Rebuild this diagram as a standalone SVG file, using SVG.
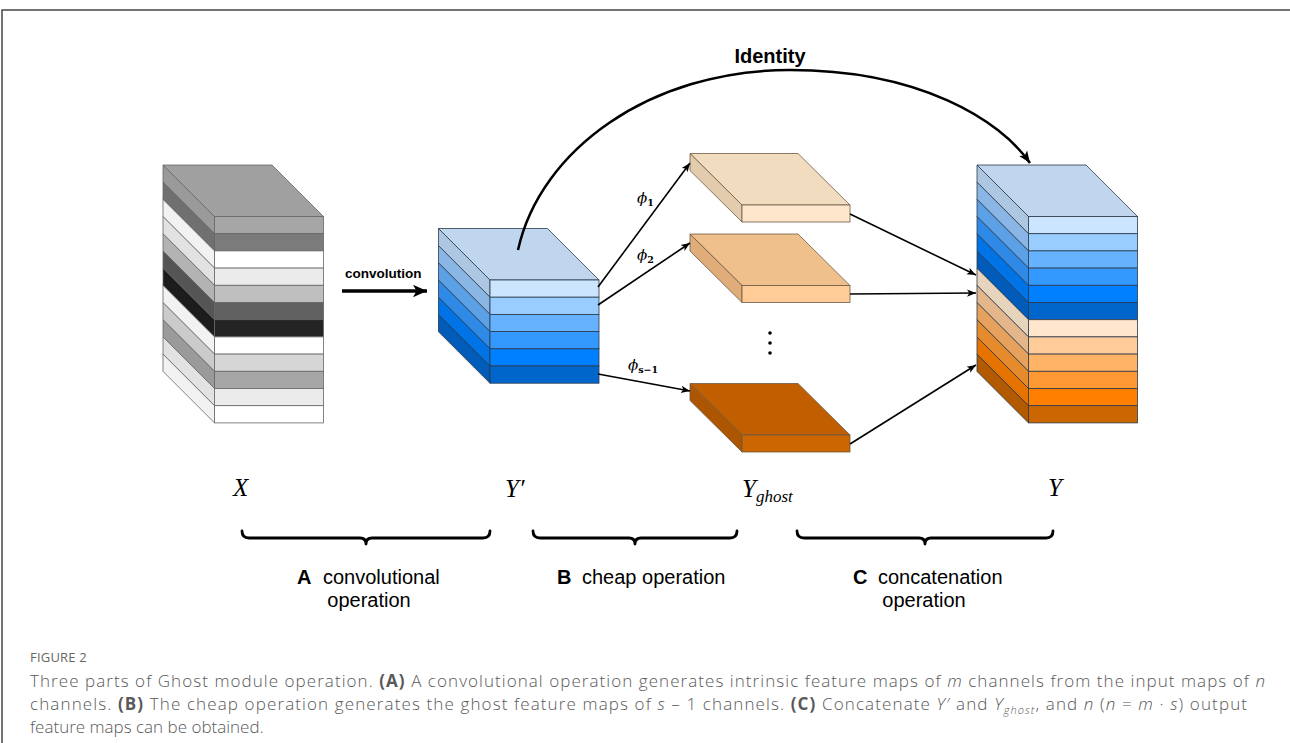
<svg xmlns="http://www.w3.org/2000/svg" xmlns:xlink="http://www.w3.org/1999/xlink" width="1290" height="743" viewBox="0 0 1290 743">
<style>
.frame{fill:none;stroke:#444;stroke-width:1.5}
.gs{stroke:#666;stroke-width:0.8}
.bs{stroke:#2b3a4a;stroke-width:0.8}
.ss{stroke:#6b5a45;stroke-width:0.8}
.ln{fill:none;stroke:#000;stroke-width:1.6}
.brace{fill:none;stroke:#000;stroke-width:2.8;stroke-linecap:round;stroke-linejoin:round}
.lbl{font-family:"Liberation Sans",Arial,sans-serif;font-size:20px;fill:#000}
.b{font-weight:bold}
.m{font-family:"Liberation Serif","Times New Roman",serif;font-style:italic;font-size:25px;fill:#000}
.phi{font-family:"DejaVu Serif",serif;font-style:italic;font-size:15px;fill:#000}
.sub{font-size:9.5px;font-weight:bold;font-style:normal}
.cap{font-family:"Open Sans",sans-serif;font-size:17px;font-weight:300;fill:#595959}
.fig{font-family:"Open Sans",sans-serif;font-size:13px;fill:#666;letter-spacing:0.2px}
</style>
<defs>
<polygon id="tp" points="0,0 109,0 160.5,51.5 51.5,51.5"/>
<polygon id="sd" points="0,0 51.5,51.5 51.5,68.7 0,17.2"/>
<rect id="fr" x="51.5" y="51.5" width="109" height="17.2"/>
<marker id="ah" viewBox="0 0 10 10" refX="10" refY="5" markerWidth="9" markerHeight="9" markerUnits="userSpaceOnUse" orient="auto"><path d="M0,1 L10,5 L0,9 L2.5,5 z" fill="#000"/></marker>
<marker id="ahm" viewBox="0 0 10 10" refX="10" refY="5" markerWidth="13" markerHeight="12" markerUnits="userSpaceOnUse" orient="auto"><path d="M0,1 L10,5 L0,9 L2.5,5 z" fill="#000"/></marker>
<marker id="ahl" viewBox="0 0 10 10" refX="10" refY="5" markerWidth="16" markerHeight="14" markerUnits="userSpaceOnUse" orient="auto"><path d="M0,0.5 L10,5 L0,9.5 L2.5,5 z" fill="#000"/></marker>
</defs>
<rect width="1290" height="743" fill="#fff"/>
<path class="frame" d="M2,743 L2,10 L1290,10"/>

<g id="X" class="gs" transform="translate(163,165)">
<use xlink:href="#tp" fill="#a0a0a0"/>
<use xlink:href="#sd" y="0" fill="#9a9a9a"/><use xlink:href="#fr" y="0" fill="#a6a6a6"/>
<use xlink:href="#sd" y="17.2" fill="#707070"/><use xlink:href="#fr" y="17.2" fill="#7b7b7b"/>
<use xlink:href="#sd" y="34.4" fill="#f2f2f2"/><use xlink:href="#fr" y="34.4" fill="#ffffff"/>
<use xlink:href="#sd" y="51.6" fill="#e2e2e2"/><use xlink:href="#fr" y="51.6" fill="#ebebeb"/>
<use xlink:href="#sd" y="68.8" fill="#b3b3b3"/><use xlink:href="#fr" y="68.8" fill="#bfbfbf"/>
<use xlink:href="#sd" y="86" fill="#555555"/><use xlink:href="#fr" y="86" fill="#606060"/>
<use xlink:href="#sd" y="103.2" fill="#1c1c1c"/><use xlink:href="#fr" y="103.2" fill="#242424"/>
<use xlink:href="#sd" y="120.4" fill="#f2f2f2"/><use xlink:href="#fr" y="120.4" fill="#ffffff"/>
<use xlink:href="#sd" y="137.6" fill="#cbcbcb"/><use xlink:href="#fr" y="137.6" fill="#d6d6d6"/>
<use xlink:href="#sd" y="154.8" fill="#9a9a9a"/><use xlink:href="#fr" y="154.8" fill="#a6a6a6"/>
<use xlink:href="#sd" y="172" fill="#e2e2e2"/><use xlink:href="#fr" y="172" fill="#ebebeb"/>
<use xlink:href="#sd" y="189.2" fill="#f2f2f2"/><use xlink:href="#fr" y="189.2" fill="#ffffff"/>
</g>

<g id="Yprime" class="bs" transform="translate(438.5,228.5)">
<use xlink:href="#tp" fill="#c0d6ef"/>
<use xlink:href="#sd" y="0" fill="#adc6e2"/><use xlink:href="#fr" y="0" fill="#cce5ff"/>
<use xlink:href="#sd" y="17.2" fill="#8ab6e6"/><use xlink:href="#fr" y="17.2" fill="#99ccff"/>
<use xlink:href="#sd" y="34.4" fill="#5ca0e6"/><use xlink:href="#fr" y="34.4" fill="#66b2ff"/>
<use xlink:href="#sd" y="51.6" fill="#2e8ae6"/><use xlink:href="#fr" y="51.6" fill="#3399ff"/>
<use xlink:href="#sd" y="68.8" fill="#0073e6"/><use xlink:href="#fr" y="68.8" fill="#0080ff"/>
<use xlink:href="#sd" y="86" fill="#005cb8"/><use xlink:href="#fr" y="86" fill="#0066cc"/>
</g>

<g id="Y" class="bs" transform="translate(977,165)">
<use xlink:href="#tp" fill="#c0d6ef"/>
<use xlink:href="#sd" y="0" fill="#adc6e2"/><use xlink:href="#fr" y="0" fill="#cce5ff"/>
<use xlink:href="#sd" y="17.2" fill="#8ab6e6"/><use xlink:href="#fr" y="17.2" fill="#99ccff"/>
<use xlink:href="#sd" y="34.4" fill="#5ca0e6"/><use xlink:href="#fr" y="34.4" fill="#66b2ff"/>
<use xlink:href="#sd" y="51.6" fill="#2e8ae6"/><use xlink:href="#fr" y="51.6" fill="#3399ff"/>
<use xlink:href="#sd" y="68.8" fill="#0073e6"/><use xlink:href="#fr" y="68.8" fill="#0080ff"/>
<use xlink:href="#sd" y="86" fill="#005cb8"/><use xlink:href="#fr" y="86" fill="#0066cc"/>
<use xlink:href="#sd" y="103.2" fill="#e6d4bc"/><use xlink:href="#fr" y="103.2" fill="#ffe6cc"/>
<use xlink:href="#sd" y="120.4" fill="#e3b68b"/><use xlink:href="#fr" y="120.4" fill="#ffcc99"/>
<use xlink:href="#sd" y="137.6" fill="#e6a15c"/><use xlink:href="#fr" y="137.6" fill="#ffb366"/>
<use xlink:href="#sd" y="154.8" fill="#e68a2e"/><use xlink:href="#fr" y="154.8" fill="#ff9933"/>
<use xlink:href="#sd" y="172" fill="#e67300"/><use xlink:href="#fr" y="172" fill="#ff8000"/>
<use xlink:href="#sd" y="189.2" fill="#b35900"/><use xlink:href="#fr" y="189.2" fill="#cc6600"/>
</g>

<g id="ghost1" class="ss" transform="translate(690,153.5)">
<polygon points="0,0 108,0 160,51.5 52,51.5" fill="#f2dcc0"/>
<polygon points="0,0 52,51.5 52,68.5 0,17" fill="#e3cbad"/>
<rect x="52" y="51.5" width="108" height="17" fill="#fee6cc"/>
</g>
<g id="ghost2" class="ss" transform="translate(690,234)">
<polygon points="0,0 108,0 160,51.5 52,51.5" fill="#f0c08c"/>
<polygon points="0,0 52,51.5 52,68.5 0,17" fill="#e0ac7a"/>
<rect x="52" y="51.5" width="108" height="17" fill="#ffcb97"/>
</g>
<g id="ghost3" class="ss" transform="translate(690,383.5)">
<polygon points="0,0 108,0 160,51.5 52,51.5" fill="#c05e00"/>
<polygon points="0,0 52,51.5 52,68.5 0,17" fill="#ad5500"/>
<rect x="52" y="51.5" width="108" height="17" fill="#cc6600"/>
</g>
<g id="dots" fill="#000">
<circle cx="770" cy="333" r="1.8"/><circle cx="770" cy="343" r="1.8"/><circle cx="770" cy="353" r="1.8"/>
</g>

<g id="connectors">
<line x1="342" y1="291" x2="427" y2="291" stroke="#000" stroke-width="3.5" marker-end="url(#ahl)"/>
<path d="M518,250 C540,150 650,70 790,70 C920,70 1000,120 1030,163" fill="none" stroke="#000" stroke-width="2.5" marker-end="url(#ahm)"/>
<line class="ln" x1="598" y1="287" x2="690" y2="163" marker-end="url(#ah)"/>
<line class="ln" x1="598" y1="305" x2="690" y2="243" marker-end="url(#ah)"/>
<line class="ln" x1="598" y1="374" x2="690" y2="391" marker-end="url(#ah)"/>
<line class="ln" x1="850" y1="214" x2="976" y2="275" marker-end="url(#ah)"/>
<line class="ln" x1="850" y1="294" x2="976" y2="293" marker-end="url(#ah)"/>
<line class="ln" x1="850" y1="444" x2="976" y2="365" marker-end="url(#ah)"/>
</g>

<g id="labels">
<text class="lbl b" x="770" y="63" text-anchor="middle">Identity</text>
<text class="lbl b" x="345" y="278" style="font-size:13.5px">convolution</text>
<text class="phi" x="637" y="203">ϕ<tspan class="sub" dy="3">1</tspan></text>
<text class="phi" x="637" y="260">ϕ<tspan class="sub" dy="3">2</tspan></text>
<text class="phi" x="628" y="370">ϕ<tspan class="sub" dy="3">s−1</tspan></text>
<text class="m" x="233" y="496">X</text>
<text class="m" x="505" y="497">Y′</text>
<text class="m" x="742" y="497">Y<tspan style="font-size:17px" dy="5">ghost</tspan></text>
<text class="m" x="1048" y="496">Y</text>
</g>

<g id="braces">
<path class="brace" d="M242,531 Q242,538 249,538 L360,538 Q366,538 366,544 Q366,538 372,538 L483,538 Q490,538 490,531"/>
<path class="brace" d="M533,531 Q533,538 540,538 L629,538 Q635,538 635,544 Q635,538 641,538 L730,538 Q737,538 737,531"/>
<path class="brace" d="M797,531 Q797,538 804,538 L919,538 Q925,538 925,544 Q925,538 931,538 L1046,538 Q1053,538 1053,531"/>
</g>

<g id="parts">
<text class="lbl" x="297" y="584"><tspan class="b">A</tspan><tspan x="323">convolutional</tspan></text>
<text class="lbl" x="369" y="607" text-anchor="middle">operation</text>
<text class="lbl" x="557" y="584"><tspan class="b">B</tspan><tspan x="582">cheap operation</tspan></text>
<text class="lbl" x="853" y="584"><tspan class="b">C</tspan><tspan x="878">concatenation</tspan></text>
<text class="lbl" x="924" y="607" text-anchor="middle">operation</text>
</g>

<g id="caption">
<text class="fig" x="30" y="662">FIGURE 2</text>
<text class="cap" x="30" y="687" textLength="1235" lengthAdjust="spacing">Three parts of Ghost module operation. <tspan font-weight="bold">(A)</tspan> A convolutional operation generates intrinsic feature maps of <tspan font-style="italic">m</tspan> channels from the input maps of <tspan font-style="italic">n</tspan></text>
<text class="cap" x="30" y="710" textLength="1217" lengthAdjust="spacing">channels. <tspan font-weight="bold">(B)</tspan> The cheap operation generates the ghost feature maps of <tspan font-style="italic">s</tspan> – 1 channels. <tspan font-weight="bold">(C)</tspan> Concatenate <tspan font-style="italic">Y′</tspan> and <tspan font-style="italic">Y</tspan><tspan font-style="italic" font-size="11" dy="4">ghost</tspan><tspan dy="-4">, and </tspan><tspan font-style="italic">n</tspan> (<tspan font-style="italic">n</tspan> = <tspan font-style="italic">m</tspan> · <tspan font-style="italic">s</tspan>) output</text>
<text class="cap" x="30" y="733">feature maps can be obtained.</text>
</g>
</svg>
